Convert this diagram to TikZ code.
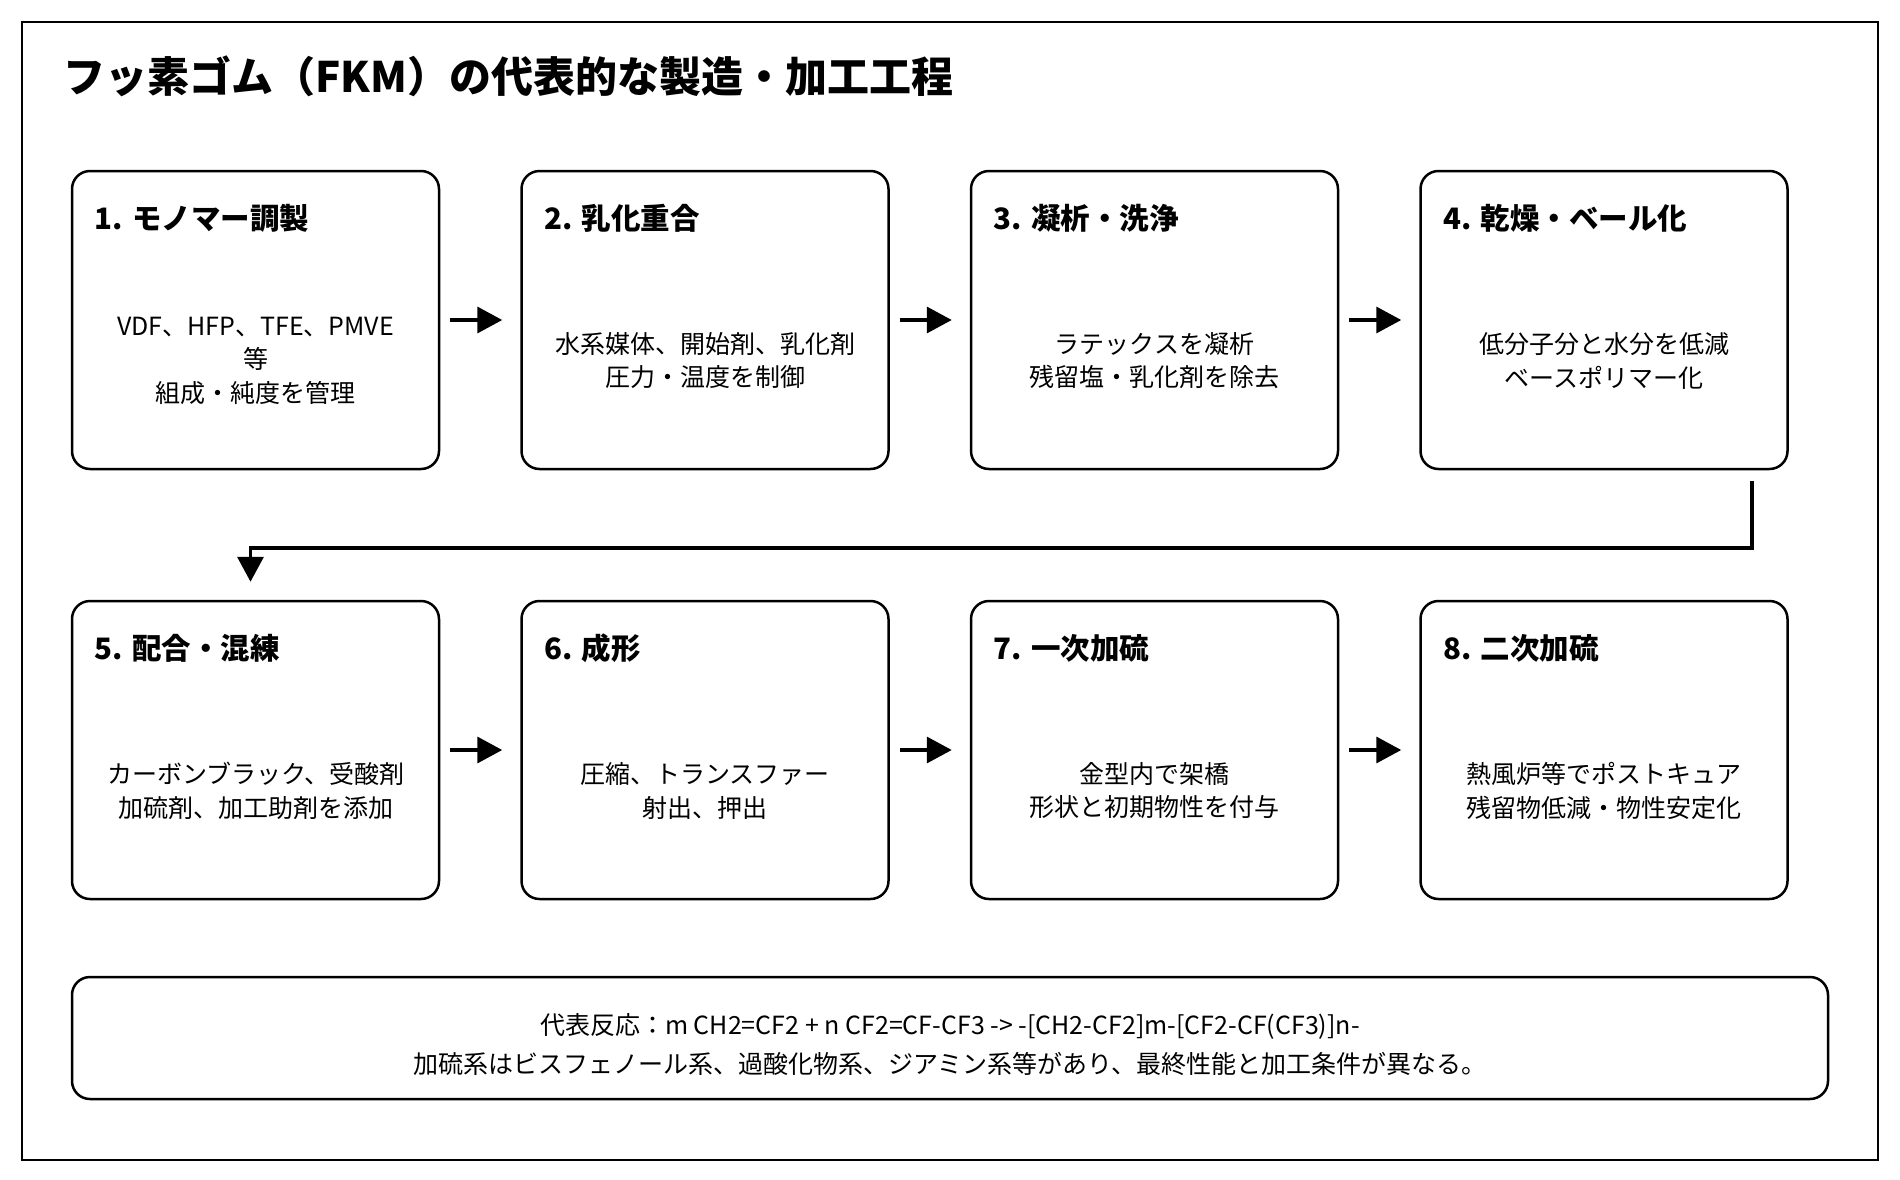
\documentclass[tikz,border=0pt]{standalone}
\usepackage{fontspec}
\setmainfont{Noto Sans CJK JP}
\usetikzlibrary{arrows.meta,calc}
\begin{document}
\begin{tikzpicture}[x=1pt,y=-1pt,
  stepbox/.style={draw=black,line width=2.5pt,rounded corners=18pt,minimum width=367pt,minimum height=298pt,inner sep=0pt},
  notebox/.style={draw=black,line width=2.5pt,rounded corners=18pt,minimum width=1756pt,minimum height=122pt,inner sep=0pt},
  steptitle/.style={anchor=west,inner sep=0pt,font=\fontsize{29.5}{33}\selectfont\bfseries},
  stepbody/.style={anchor=center,align=center,inner sep=0pt,font=\fontsize{25}{33.5}\selectfont},
  flow/.style={line width=3.5pt,-{Triangle[length=25pt,width=26pt]}}
]
\useasboundingbox (0,0) rectangle (1900,1180);
\draw[line width=2.5pt] (22,22) rectangle (1878,1160);
\node[anchor=west,inner sep=0pt,font=\fontsize{42}{46}\selectfont\bfseries] (title) at (63,76) {フッ素ゴム（FKM）の代表的な製造・加工工程};

% row 1
\foreach \i/\t/\b in {1/{1. モノマー調製}/{VDF、HFP、TFE、PMVE\\等\\組成・純度を管理},
                      2/{2. 乳化重合}/{水系媒体、開始剤、乳化剤\\圧力・温度を制御},
                      3/{3. 凝析・洗浄}/{ラテックスを凝析\\残留塩・乳化剤を除去},
                      4/{4. 乾燥・ベール化}/{低分子分と水分を低減\\ベースポリマー化}}{
  \node[stepbox] (s\i) at ({255.5+449.5*(\i-1)},320) {};
  \node[steptitle] (t\i) at ($(s\i.north west)+(24,49)$) {\t};
  \node[stepbody] (b\i) at ($(s\i.north)+(0,191)$) {\b};
}
% row 2
\foreach \i/\t/\b in {5/{5. 配合・混練}/{カーボンブラック、受酸剤\\加硫剤、加工助剤を添加},
                      6/{6. 成形}/{圧縮、トランスファー\\射出、押出},
                      7/{7. 一次加硫}/{金型内で架橋\\形状と初期物性を付与},
                      8/{8. 二次加硫}/{熱風炉等でポストキュア\\残留物低減・物性安定化}}{
  \node[stepbox] (s\i) at ({255.5+449.5*(\i-5)},750) {};
  \node[steptitle] (t\i) at ($(s\i.north west)+(24,49)$) {\t};
  \node[stepbody] (b\i) at ($(s\i.north)+(0,191)$) {\b};
}

\node[notebox] (note) at (950,1038) {};
\node[anchor=center,align=center,inner sep=0pt,font=\fontsize{25}{39}\selectfont] (notetext) at ($(note.center)+(0,7)$) {代表反応：m CH2=CF2 + n CF2=CF-CF3 -> -[CH2-CF2]m-[CF2-CF(CF3)]n-\\加硫系はビスフェノール系、過酸化物系、ジアミン系等があり、最終性能と加工条件が異なる。};

% arrows
\foreach \a/\b in {1/2,2/3,3/4,5/6,6/7,7/8}{
  \draw[flow] ($(s\a.east)+(10,0)$) -- ($(s\b.west)+(-18,0)$);
}
\coordinate (c4) at ($(s4.south east)+(-37,11)$);
\coordinate (c5) at ($(s5.north)+(-5,-18)$);
\draw[flow] (c4) |- ($(c5)+(0,-34)$) -- (c5);
\end{tikzpicture}
\end{document}
